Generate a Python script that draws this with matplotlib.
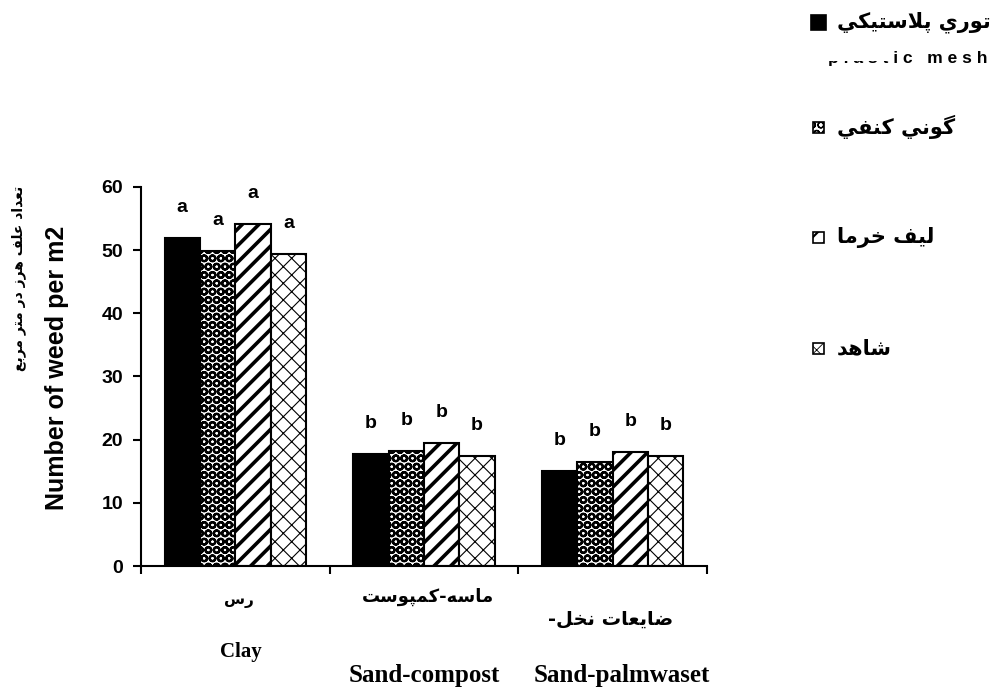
import matplotlib
matplotlib.use("Agg")
import matplotlib.pyplot as plt
import numpy as np
from matplotlib.patches import Rectangle

# data
soils_en = ["Clay", "Sand-compost", "Sand-palmwaset"]
soils_fa = ["رس", "ماسه-كمپوست", "ضايعات نخل-"]
treat_fa = ["توري پلاستيكي", "گوني كنفي", "ليف خرما", "شاهد"]
treat_en = "plastic mesh"
plastic = [51.9, 17.8, 15.0]
hemp = [49.9, 18.2, 16.5]
palm_fiber = [54.2, 19.5, 18.1]
control = [49.4, 17.4, 17.4]
letters = [["a", "b", "b"], ["a", "b", "b"], ["a", "b", "b"], ["a", "b", "b"]]
ylabel_en = "Number of weed per m2"
ylabel_fa = "تعداد علف هرز در متر مربع"

# arabic shaping by hand (matplotlib has no bidi/shaping)
DUAL = {'ب': 0xFE8F, 'ت': 0xFE95, 'ث': 0xFE99, 'ج': 0xFE9D, 'ح': 0xFEA1, 'خ': 0xFEA5,
        'س': 0xFEB1, 'ش': 0xFEB5, 'ص': 0xFEB9, 'ض': 0xFEBD, 'ط': 0xFEC1, 'ظ': 0xFEC5,
        'ع': 0xFEC9, 'غ': 0xFECD, 'ف': 0xFED1, 'ق': 0xFED5, 'ك': 0xFED9, 'ل': 0xFEDD,
        'م': 0xFEE1, 'ن': 0xFEE5, 'ه': 0xFEE9, 'ي': 0xFEF1, 'پ': 0xFB56, 'گ': 0xFB92,
        'ک': 0xFB8E, 'ی': 0xFBFC}
RIGHT = {'ا': 0xFE8D, 'د': 0xFEA9, 'ذ': 0xFEAB, 'ر': 0xFEAD, 'ز': 0xFEAF, 'و': 0xFEED}


def shape(s):
    out = []
    i = 0
    while i < len(s):
        c = s[i]
        prev = s[i - 1] if i > 0 else ''
        nxt = s[i + 1] if i + 1 < len(s) else ''
        con_prev = prev in DUAL and (c in DUAL or c in RIGHT)
        if c == 'ل' and nxt == 'ا':
            out.append('\uFEFC' if con_prev else '\uFEFB')
            i += 2
            continue
        if c in DUAL:
            con_next = nxt in DUAL or nxt in RIGHT
            k = 3 if (con_prev and con_next) else 1 if con_prev else 2 if con_next else 0
            out.append(chr(DUAL[c] + k))
        elif c in RIGHT:
            out.append(chr(RIGHT[c] + (1 if con_prev else 0)))
        else:
            out.append(c)
        i += 1
    return ''.join(reversed(out))


AR = ['DejaVu Sans']
plt.rcParams['font.family'] = ['Liberation Sans', 'DejaVu Sans']

fig = plt.figure(figsize=(10, 6.9), dpi=100)
ax = fig.add_axes([0.141, 0.1797, 0.566, 0.5493])

series = [plastic, hemp, palm_fiber, control]
styles = [dict(color="black", hatch=None, lw=1.0),
          dict(color="white", hatch="OO", lw=1.6),
          dict(color="white", hatch="//", lw=2.6),
          dict(color="white", hatch="xx", lw=0.8)]
x = np.arange(len(soils_en))
w = 0.1875
for j, (vals, st) in enumerate(zip(series, styles)):
    pos = x + (j - 1.5) * w
    with plt.rc_context({'hatch.linewidth': st['lw']}):
        bars = ax.bar(pos, vals, w, color=st['color'], edgecolor="black",
                      linewidth=1.5, hatch=st['hatch'], zorder=2)
    for b in bars:
        if hasattr(b, 'set_hatch_linewidth'):
            b.set_hatch_linewidth(st['lw'])
    for p, v, lt in zip(pos, vals, letters[j]):
        ax.annotate(lt, (p, v), xytext=(0, 22), textcoords="offset points",
                    ha="center", va="center", fontsize=14, fontweight="bold")

ax.set_xlim(-0.5, 2.5)
ax.set_ylim(0, 60)
ax.set_yticks(range(0, 61, 10))
ax.set_xticks([-0.5, 0.5, 1.5, 2.5])
ax.set_xticklabels([])
for s in ["top", "right"]:
    ax.spines[s].set_visible(False)
for s in ["left", "bottom"]:
    ax.spines[s].set_linewidth(1.5)
ax.tick_params(direction="out", length=6, width=1.5, labelsize=14, pad=7)
for t in ax.get_yticklabels():
    t.set_fontweight("bold")

# category labels
tr = ax.get_xaxis_transform()
ax.text(0.02, -0.092, shape(soils_fa[0]), transform=tr,
        ha="center", va="center", fontsize=11, fontweight="bold", family=AR)
ax.text(1.02, -0.082, shape(soils_fa[1]), transform=tr,
        ha="center", va="center", fontsize=13, fontweight="bold", family=AR)
ax.text(1.99, -0.14, shape(soils_fa[2]), transform=tr,
        ha="center", va="center", fontsize=14, fontweight="bold", family=AR)
ax.text(0.03, -0.228, soils_en[0], transform=tr,
        ha="center", va="center", fontsize=15, fontweight="bold", family="Liberation Serif")
ax.text(1.0, -0.29, soils_en[1], transform=tr,
        ha="center", va="center", fontsize=18, fontweight="bold", family="Liberation Serif")
ax.text(2.05, -0.29, soils_en[2], transform=tr,
        ha="center", va="center", fontsize=18, fontweight="bold", family="Liberation Serif")

# axis titles
fig.text(0.057, 0.467, ylabel_en, rotation=90, ha="center", va="center",
         fontsize=18, fontweight="bold")
fig.text(0.019, 0.597, shape(ylabel_fa), rotation=90, ha="center", va="center",
         fontsize=10, fontweight="bold", family=AR)

# legend drawn by hand
leg_y = [22, 127, 237, 348]
for j, (name, st) in enumerate(zip(treat_fa, styles)):
    yc = 1 - leg_y[j] / 690
    size = 15 if j == 0 else 11
    with plt.rc_context({'hatch.linewidth': max(st['lw'] * 0.6, 0.6)}):
        r = Rectangle((0.8185 - size / 2000, yc - size / 1380), size / 1000, size / 690,
                      transform=fig.transFigure, facecolor=st['color'], edgecolor="black",
                      linewidth=1.2, hatch=st['hatch'])
    fig.patches.append(r)
    fig.text(0.837, yc, shape(name), ha="left", va="center", fontsize=15,
             fontweight="bold", family=AR)
fig.text(0.828, 1 - 58 / 690, " ".join(treat_en), ha="left", va="center",
         fontsize=12.5, fontweight="bold")
# top of "plast" is hidden in the original
fig.patches.append(Rectangle((0.825, 1 - 61 / 690), 0.064, 0.025,
                             transform=fig.transFigure, facecolor="white",
                             edgecolor="none", zorder=5))

fig.savefig("out.png", dpi=100)
